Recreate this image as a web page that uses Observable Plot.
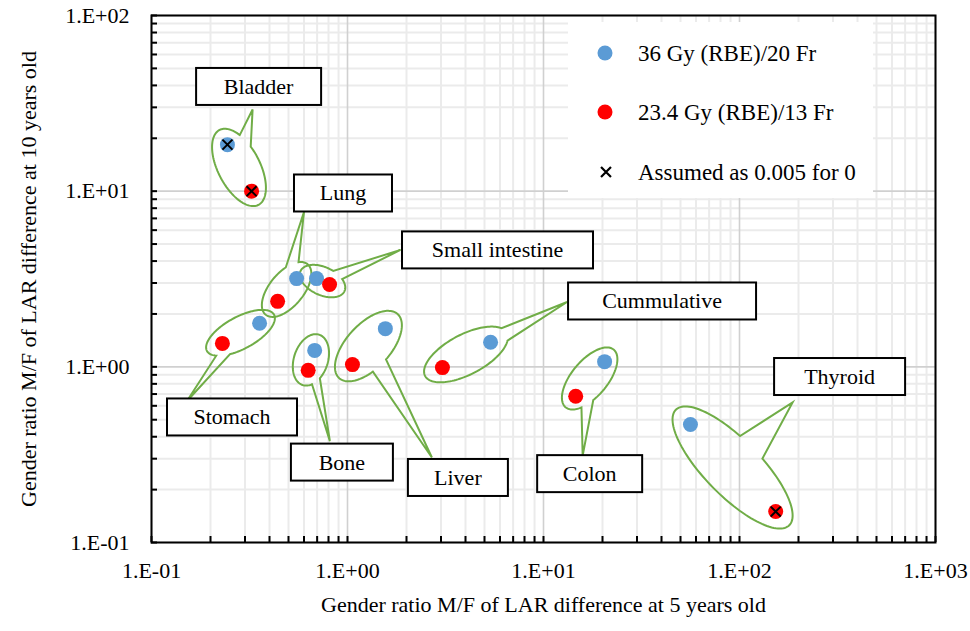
<!DOCTYPE html>
<html>
<head>
<meta charset="utf-8">
<script src="https://cdn.jsdelivr.net/npm/d3@7"></script>
<script src="https://cdn.jsdelivr.net/npm/@observablehq/plot@0.6"></script>
<style>
  html, body { margin: 0; padding: 0; background: #fff; }
  #chart svg { display: block; }
</style>
</head>
<body>
<div id="chart"></div>
<script>
// ---------- data ----------
const organs = ["Bladder", "Lung", "Small intestine", "Stomach", "Bone", "Liver", "Cummulative", "Colon", "Thyroid"];
const seriesNames = ["36 Gy (RBE)/20 Fr", "23.4 Gy (RBE)/13 Fr"];
const x36  = [0.244, 0.55, 0.695, 0.356, 0.68, 1.56, 5.37, 20.5, 56.2];
const y36  = [18.4, 3.18, 3.18, 1.77, 1.24, 1.65, 1.38, 1.07, 0.47];
const x234 = [0.324, 0.44, 0.81, 0.23, 0.63, 1.06, 3.05, 14.6, 153];
const y234 = [10.0, 2.36, 2.94, 1.36, 0.955, 1.03, 0.99, 0.68, 0.15];
const zero36  = ["Bladder"];
const zero234 = ["Bladder", "Thyroid"];
const zeroNote = "Assumed as 0.005 for 0";
const xTickValues = [0.1, 1, 10, 100, 1000];
const yTickValues = [0.1, 1, 10, 100];
const xTitle = "Gender ratio M/F of LAR difference at 5 years old";
const yTitle = "Gender ratio M/F of LAR difference at 10 years old";

// callout annotations: label box centre (data units), tail tip offset (px), ellipse padding
const callouts = [
  {organ: "Bladder",         bx: 0.354, by: 39.2,  w: 125, tdx: -6,  tdy: 23, pad: 16, b: 21, base: 16},
  {organ: "Lung",            bx: 0.954, by: 9.70,  w: 98,  tdx: -39, tdy: 19, pad: 18, b: 17, base: 14},
  {organ: "Small intestine", bx: 5.86,  by: 4.60,  w: 191, tdx: -97, tdy: 0,  pad: 17, b: 14, base: 12},
  {organ: "Cummulative",     bx: 40.5,  by: 2.355, w: 188, tdx: -95, tdy: 1,  pad: 19, b: 20, base: 14},
  {organ: "Thyroid",         bx: 326,   by: 0.875, w: 131, tdx: -47, tdy: 26, pad: 20, b: 28, base: 32},
  {organ: "Colon",           bx: 17.3,  by: 0.245, w: 105, tdx: -7,  tdy: -18, pad: 15, b: 18, base: 14},
  {organ: "Stomach",         bx: 0.259, by: 0.515, w: 130, tdx: -45, tdy: -16, pad: 17, b: 16, base: 14},
  {organ: "Bone",            bx: 0.942, by: 0.285, w: 102, tdx: -12, tdy: -21, pad: 16, b: 17, base: 10},
  {organ: "Liver",           bx: 3.68,  by: 0.233, w: 100, tdx: -26, tdy: -20, pad: 19, b: 22, base: 18}
];

// ---------- derived tables ----------
const points = organs.flatMap((o, i) => [
  {organ: o, series: seriesNames[0], x: x36[i],  y: y36[i],  zero: zero36.includes(o)},
  {organ: o, series: seriesNames[1], x: x234[i], y: y234[i], zero: zero234.includes(o)}
]);
const decadesX = [0.1, 1, 10, 100];
const decadesY = [0.1, 1, 10];
const minorX = decadesX.flatMap(d => [2,3,4,5,6,7,8,9].map(k => k * d));
const minorY = decadesY.flatMap(d => [2,3,4,5,6,7,8,9].map(k => k * d));
const fmt = d => { const e = Math.round(Math.log10(d)); return "1.E" + (e < 0 ? "-" : "+") + String(Math.abs(e)).padStart(2, "0"); };

const FONT = "'Liberation Serif', 'Times New Roman', Tinos, serif";
const GREEN = "#70AD47";

function calloutPath(cx, cy, a, b, ang, tx, ty, base) {
  const ux = Math.cos(ang), uy = Math.sin(ang), vx = -uy, vy = ux;
  const dx = tx - cx, dy = ty - cy;
  const lx = (dx * ux + dy * uy) / a, ly = (dx * vx + dy * vy) / b;
  const t0 = Math.atan2(ly, lx);
  const speed = Math.hypot(a * Math.sin(t0), b * Math.cos(t0));
  const hw = Math.min(0.9, (base / 2) / speed);
  const pts = [];
  const N = 120;
  for (let k = 0; k <= N; k++) {
    const t = t0 + hw + (2 * Math.PI - 2 * hw) * k / N;
    pts.push([cx + a * Math.cos(t) * ux + b * Math.sin(t) * vx,
              cy + a * Math.cos(t) * uy + b * Math.sin(t) * vy]);
  }
  pts.push([tx, ty]);
  return "M" + pts.map(p => p[0].toFixed(2) + "," + p[1].toFixed(2)).join("L") + "Z";
}

function calloutShapes(index, scales) {
  const g = d3.create("svg:g");
  for (const c of callouts) {
    const i = organs.indexOf(c.organ);
    const p1x = scales.x(x36[i]), p1y = scales.y(y36[i]);
    const p2x = scales.x(x234[i]), p2y = scales.y(y234[i]);
    const cx = (p1x + p2x) / 2, cy = (p1y + p2y) / 2;
    const d = Math.hypot(p2x - p1x, p2y - p1y);
    const ang = Math.atan2(p2y - p1y, p2x - p1x);
    const bx = scales.x(c.bx), by = scales.y(c.by);
    g.append("path")
      .attr("d", calloutPath(cx, cy, d / 2 + c.pad, c.b, ang, bx + c.tdx, by + c.tdy, c.base))
      .attr("fill", "none").attr("stroke", GREEN).attr("stroke-width", 2).attr("stroke-linejoin", "miter");
  }
  return g.node();
}

function calloutBoxes(index, scales) {
  const g = d3.create("svg:g");
  const h = 37;
  for (const c of callouts) {
    const bx = scales.x(c.bx), by = scales.y(c.by);
    g.append("rect").attr("x", bx - c.w / 2).attr("y", by - h / 2).attr("width", c.w).attr("height", h)
      .attr("fill", "white").attr("stroke", "black").attr("stroke-width", 2);
    g.append("text").attr("x", bx).attr("y", by).attr("dy", "0.34em").attr("text-anchor", "middle")
      .attr("font-family", FONT).attr("font-size", 22).attr("fill", "black").text(c.organ);
  }
  return g.node();
}

function legendMark(index, scales, values, dim) {
  const right = dim.width - dim.marginRight, top = dim.marginTop;
  const g = d3.create("svg:g");
  const x0 = right - 367, y0 = top + 7;
  g.append("rect").attr("x", x0).attr("y", y0).attr("width", 305).attr("height", 176).attr("fill", "white");
  const rows = [y0 + 31, y0 + 90, y0 + 150];
  seriesNames.forEach((s, k) => {
    g.append("circle").attr("cx", x0 + 37).attr("cy", rows[k]).attr("r", 7.5).attr("fill", scales.color(s));
    g.append("text").attr("x", x0 + 70).attr("y", rows[k]).attr("dy", "0.34em").attr("text-anchor", "start")
      .attr("font-family", FONT).attr("font-size", 23).attr("fill", "black").text(s);
  });
  g.append("path").attr("transform", `translate(${x0 + 38},${rows[2]})`)
    .attr("d", d3.symbol(d3.symbolTimes, Math.PI * 4.6 * 4.6)())
    .attr("fill", "none").attr("stroke", "black").attr("stroke-width", 2.2);
  g.append("text").attr("x", x0 + 70).attr("y", rows[2]).attr("dy", "0.34em").attr("text-anchor", "start")
    .attr("font-family", FONT).attr("font-size", 23).attr("fill", "black").text(zeroNote);
  return g.node();
}

const W = 970, H = 631, ML = 151, MR = 35, MT = 15, MB = 89;
const innerW = W - ML - MR, innerH = H - MT - MB;

const plot = Plot.plot({
  width: W, height: H,
  marginLeft: ML, marginRight: MR, marginTop: MT, marginBottom: MB,
  style: {fontFamily: FONT, fontSize: "22px", color: "black", background: "white", overflow: "visible"},
  x: {type: "log", domain: [0.1, 1000], ticks: xTickValues, tickFormat: fmt, tickSize: 0, tickPadding: 20, label: null},
  y: {type: "log", domain: [0.1, 100], ticks: yTickValues, tickFormat: fmt, tickSize: 0, tickPadding: 22, label: null},
  color: {domain: seriesNames, range: ["#5B9BD5", "#FF0000"]},
  marks: [
    Plot.ruleX(minorX, {x: d => d, stroke: "#ebebeb", strokeWidth: 2}),
    Plot.ruleY(minorY, {y: d => d, stroke: "#ebebeb", strokeWidth: 2}),
    Plot.ruleX(xTickValues, {x: d => d, stroke: "#d0d0d0", strokeWidth: 1.6}),
    Plot.ruleY(yTickValues, {y: d => d, stroke: "#d0d0d0", strokeWidth: 1.6}),
    calloutShapes,
    calloutBoxes,
    Plot.dot(points, {x: "x", y: "y", fill: "series", r: 7.5}),
    Plot.dot(points.filter(d => d.zero), {x: "x", y: "y", symbol: "times", r: 4.6, stroke: "black", strokeWidth: 2}),
    legendMark,
    Plot.tickX(minorX.concat(xTickValues), {x: d => d, insetTop: innerH - 6, stroke: "black", strokeWidth: 2}),
    Plot.tickY(minorY.concat(yTickValues), {y: d => d, insetRight: innerW - 6, stroke: "black", strokeWidth: 2}),
    Plot.frame({stroke: "black", strokeWidth: 2}),
    Plot.text([xTitle], {frameAnchor: "bottom", dy: 62, textAnchor: "middle", lineAnchor: "middle", fontSize: 22, fill: "black", text: d => d}),
    Plot.text([yTitle], {frameAnchor: "left", dx: -123, rotate: -90, textAnchor: "middle", lineAnchor: "middle", fontSize: 22, fill: "black", text: d => d})
  ]
});
document.getElementById("chart").appendChild(plot);
</script>
</body>
</html>
